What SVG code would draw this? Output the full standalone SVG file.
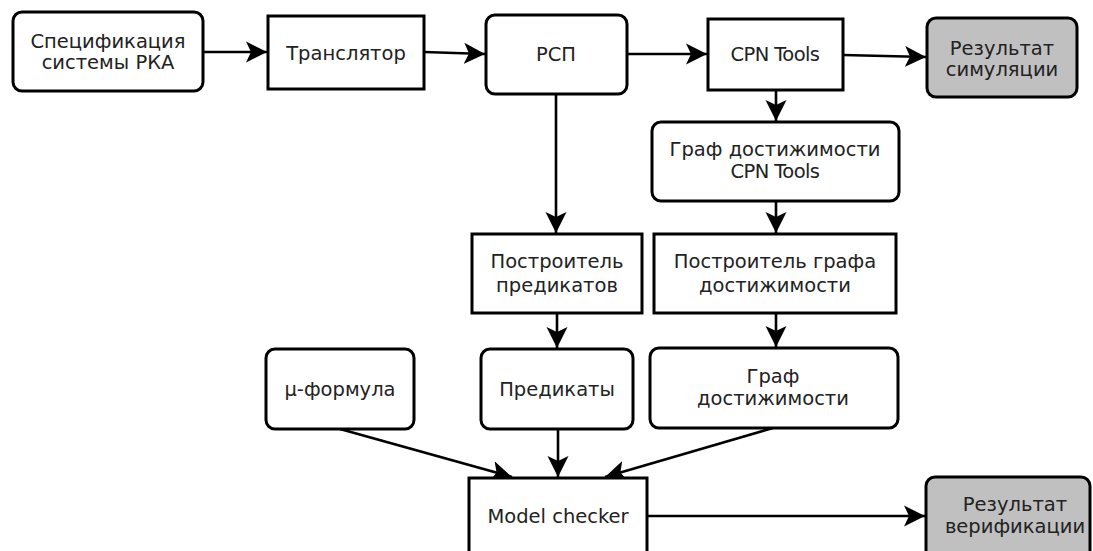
<svg xmlns="http://www.w3.org/2000/svg" width="1093" height="551" viewBox="0 0 1093 551">
<style>
.box{fill:#ffffff;stroke:#000000;stroke-width:3}
.res{fill:#c0c0c0;stroke:#000000;stroke-width:3}
.t{font-family:"DejaVu Sans","Liberation Sans",sans-serif;font-size:19.5px;fill:#222222;text-anchor:middle}
.c{stroke:#000000;stroke-width:2.6;fill:none;marker-end:url(#ah)}
</style>
<defs>
<marker id="ah" markerUnits="userSpaceOnUse" markerWidth="24" markerHeight="24" refX="21" refY="11" orient="auto">
<path d="M0,0.5 L21,11 L0,21.5 L5,11 Z" fill="#000000"/>
</marker>
</defs>
<rect width="1093" height="551" fill="#ffffff"/>
<g id="connectors">
<line class="c" x1="203" y1="52" x2="267" y2="52"/>
<line class="c" x1="424" y1="52" x2="485" y2="54"/>
<line class="c" x1="627" y1="54" x2="707" y2="54"/>
<line class="c" x1="843" y1="55" x2="926" y2="57"/>
<line class="c" x1="556" y1="94" x2="556" y2="233"/>
<line class="c" x1="776" y1="90" x2="776" y2="121"/>
<line class="c" x1="776" y1="201" x2="776" y2="233"/>
<line class="c" x1="557" y1="313" x2="557" y2="348"/>
<line class="c" x1="776" y1="313" x2="776" y2="347"/>
<line class="c" x1="340" y1="429" x2="512" y2="477"/>
<line class="c" x1="558" y1="429" x2="558" y2="477"/>
<line class="c" x1="773" y1="428" x2="605" y2="477"/>
<line class="c" x1="646" y1="516" x2="925" y2="516"/>
</g>
<g id="spec">
<rect class="box" x="13" y="12" width="190" height="79" rx="9"/>
<text class="t" x="108" y="48">Спецификация</text>
<text class="t" x="108" y="69">системы РКА</text>
</g>
<g id="translator">
<rect class="box" x="268" y="16" width="156" height="73"/>
<text class="t" x="346" y="60">Транслятор</text>
</g>
<g id="rsp">
<rect class="box" x="486" y="15" width="141" height="79" rx="9"/>
<text class="t" x="556" y="61">РСП</text>
</g>
<g id="cpn">
<rect class="box" x="708" y="19" width="135" height="71"/>
<text class="t" x="775" y="61" letter-spacing="-0.6">CPN Tools</text>
</g>
<g id="simres">
<rect class="res" x="927" y="18" width="150" height="79" rx="9"/>
<text class="t" x="1002" y="55">Результат</text>
<text class="t" x="1002" y="76">симуляции</text>
</g>
<g id="cpngraph">
<rect class="box" x="652" y="122" width="247" height="79" rx="9"/>
<text class="t" x="775" y="156">Граф достижимости</text>
<text class="t" x="775" y="178" letter-spacing="-0.6">CPN Tools</text>
</g>
<g id="predbuilder">
<rect class="box" x="472" y="234" width="170" height="79"/>
<text class="t" x="557" y="268">Построитель</text>
<text class="t" x="557" y="292">предикатов</text>
</g>
<g id="graphbuilder">
<rect class="box" x="654" y="234" width="242" height="79"/>
<text class="t" x="775" y="268">Построитель графа</text>
<text class="t" x="775" y="292">достижимости</text>
</g>
<g id="mu">
<rect class="box" x="266" y="349" width="148" height="80" rx="9"/>
<text class="t" x="340" y="396">μ-формула</text>
</g>
<g id="preds">
<rect class="box" x="481" y="349" width="152" height="80" rx="9"/>
<text class="t" x="557" y="396">Предикаты</text>
</g>
<g id="graph">
<rect class="box" x="650" y="348" width="248" height="80" rx="9"/>
<text class="t" x="773" y="383">Граф</text>
<text class="t" x="773" y="405">достижимости</text>
</g>
<g id="modelchecker">
<rect class="box" x="469" y="478" width="178" height="90"/>
<text class="t" x="558" y="523">Model checker</text>
</g>
<g id="verres">
<rect class="res" x="926" y="477" width="164" height="90" rx="9"/>
<text class="t" x="1015" y="511">Результат</text>
<text class="t" x="1015" y="533">верификации</text>
</g>
</svg>
